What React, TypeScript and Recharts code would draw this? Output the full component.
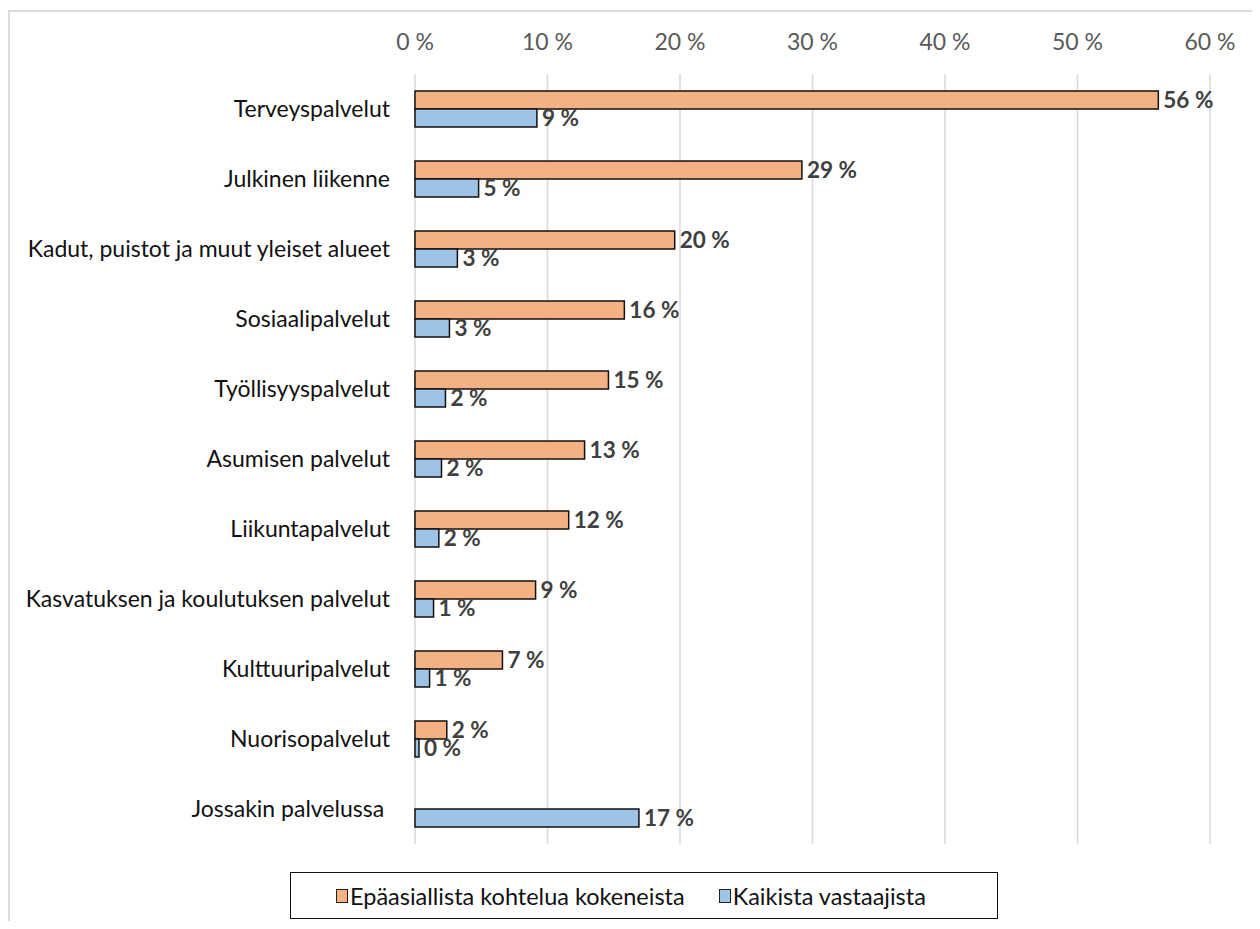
import { Bar, BarChart, CartesianGrid, LabelList, XAxis, YAxis } from "recharts";

const CATEGORIES = [
  "Terveyspalvelut",
  "Julkinen liikenne",
  "Kadut, puistot ja muut yleiset alueet",
  "Sosiaalipalvelut",
  "Työllisyyspalvelut",
  "Asumisen palvelut",
  "Liikuntapalvelut",
  "Kasvatuksen ja koulutuksen palvelut",
  "Kulttuuripalvelut",
  "Nuorisopalvelut",
  "Jossakin palvelussa\u00a0",
];

const EXPERIENCED = [56.1, 29.2, 19.6, 15.8, 14.6, 12.8, 11.6, 9.1, 6.6, 2.4, null];
const ALL_RESPONDENTS = [9.2, 4.8, 3.2, 2.6, 2.3, 2.0, 1.8, 1.4, 1.1, 0.3, 16.9];

const X_TICKS = [0, 10, 20, 30, 40, 50, 60];

const SERIES_NAMES = ["Epäasiallista kohtelua kokeneista", "Kaikista vastaajista"];

const ORANGE = "#F4B183";
const BLUE = "#9DC3E6";
const FONT = "Lato, 'Noto Sans', sans-serif";

const data = CATEGORIES.map((name, i) => ({
  name,
  experienced: EXPERIENCED[i],
  all: ALL_RESPONDENTS[i],
}));

const fmtLabel = (v: unknown) => (v == null ? "" : `${Math.round(Number(v))} %`);

const labelStyle = { fontSize: 22.5, fontWeight: 700, fill: "#404040", fontFamily: FONT };

function LegendBox() {
  const item = (color: string, text: string, gap: number) => (
    <span style={{ display: "inline-flex", alignItems: "center", marginRight: gap }}>
      <span
        style={{
          width: 10,
          height: 12,
          background: color,
          border: "1px solid #222",
          marginRight: 2,
          display: "inline-block",
        }}
      />
      <span>{text}</span>
    </span>
  );
  return (
    <div
      style={{
        position: "absolute",
        left: 290,
        top: 872,
        width: 708,
        height: 47,
        border: "1.5px solid #111",
        boxSizing: "border-box",
        display: "flex",
        alignItems: "center",
        paddingLeft: 45,
        fontSize: 23.5,
        color: "#111",
        fontFamily: FONT,
        background: "#fff",
      }}
    >
      {item(ORANGE, SERIES_NAMES[0], 34)}
      {item(BLUE, SERIES_NAMES[1], 0)}
    </div>
  );
}

export default function App() {
  return (
    <div
      style={{
        position: "relative",
        width: 1260,
        height: 929,
        margin: -8,
        overflow: "hidden",
        background: "#fff",
        fontFamily: FONT,
      }}
    >
      <div
        style={{
          position: "absolute",
          left: 8,
          top: 10,
          width: 1300,
          height: 1000,
          border: "2px solid #dcdcdc",
        }}
      />
      <div style={{ position: "absolute", left: 0, top: 0 }}>
        <BarChart
          width={1260}
          height={870}
          data={data}
          layout="vertical"
          margin={{ top: 44, right: 50, bottom: 26, left: 0 }}
          barSize={18}
          barGap={0}
        >
          <CartesianGrid horizontal={false} stroke="#d9d9d9" strokeWidth={1.5} />
          <XAxis
            type="number"
            orientation="top"
            domain={[0, 60]}
            ticks={X_TICKS}
            tickFormatter={(v) => `${v} %`}
            height={30}
            axisLine={false}
            tickLine={false}
            tickSize={0}
            tickMargin={24}
            tick={{ fontSize: 23, fill: "#595959", fontFamily: FONT }}
            interval={0}
          />
          <YAxis
            type="category"
            dataKey="name"
            width={415}
            axisLine={false}
            tickLine={false}
            tickSize={0}
            tickMargin={25}
            tick={{ fontSize: 23, fill: "#111", fontFamily: FONT }}
            interval={0}
          />
          <Bar dataKey="experienced" fill={ORANGE} stroke="#111" strokeWidth={1.5} isAnimationActive={false}>
            <LabelList dataKey="experienced" position="right" offset={5} formatter={fmtLabel} style={labelStyle} />
          </Bar>
          <Bar dataKey="all" fill={BLUE} stroke="#111" strokeWidth={1.5} isAnimationActive={false}>
            <LabelList dataKey="all" position="right" offset={5} formatter={fmtLabel} style={labelStyle} />
          </Bar>
        </BarChart>
      </div>
      <LegendBox />
    </div>
  );
}
